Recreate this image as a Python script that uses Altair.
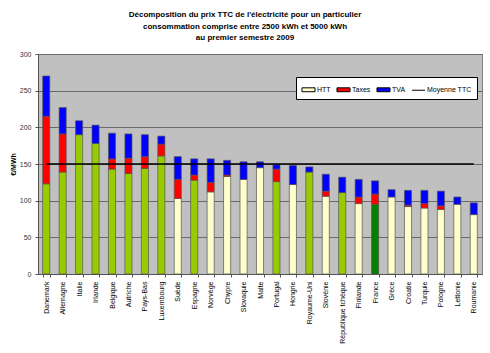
import altair as alt
import pandas as pd

pays = ["Danemark", "Allemagne", "Italie", "Irlande", "Belgique", "Autriche",
        "Pays-Bas", "Luxembourg", "Suède", "Espagne", "Norvège", "Chypre",
        "Slovaquie", "Malte", "Portugal", "Hongrie", "Royaume-Uni", "Slovénie",
        "République tchèque", "Finlande", "France", "Grèce", "Croatie",
        "Turquie", "Pologne", "Lettonie", "Roumanie"]
htt = [123, 139, 190, 178, 143, 137, 144, 161, 103, 128, 112, 133,
       129, 145, 126, 122, 139, 106, 111, 96, 95, 105, 92, 90, 88, 95, 81]
taxes = [92, 52, 0, 0, 14, 21, 16, 16, 26, 7, 13, 2,
         0, 0, 17, 0, 0, 7, 0, 9, 14, 0, 2, 6, 5, 0, 0]
tva = [55, 36, 19, 25, 35, 33, 30, 11, 31, 22, 32, 20,
       24, 8, 6, 26, 7, 23, 21, 24, 18, 10, 20, 18, 20, 10, 16]
groupe_htt = ["HTT vert"] * 8 + ["HTT", "HTT vert", "HTT", "HTT", "HTT", "HTT",
              "HTT vert", "HTT", "HTT vert", "HTT", "HTT vert", "HTT",
              "HTT France", "HTT", "HTT", "HTT", "HTT", "HTT", "HTT"]
moyenne_ttc = 150
y_ticks = [0, 50, 100, 150, 200, 250, 300]

rows = []
for i, p in enumerate(pays):
    for rang, (comp, val, cle) in enumerate([
            ("HTT", htt[i], groupe_htt[i]),
            ("Taxes", taxes[i], "Taxes"),
            ("TVA", tva[i], "TVA")]):
        if val > 0:
            rows.append({"pays": p, "composante": comp, "valeur": val,
                         "cle": cle, "rang": rang})
df = pd.DataFrame(rows)
df_moy = pd.DataFrame({"pays": pays, "valeur": [moyenne_ttc] * len(pays)})

x_axis = alt.Axis(labelAngle=270, labelFontSize=7, labelColor="#000",
                  labelPadding=4, tickBand="extent", tickSize=3,
                  tickColor="#555", domainColor="#555", grid=False,
                  labelFont="Liberation Sans")
x_scale = alt.Scale(paddingInner=0.57, paddingOuter=0.285)
y_axis = alt.Axis(values=y_ticks, tickCount=7,
                  labelFontSize=7, labelColor="#333", tickSize=3,
                  tickColor="#555", domainColor="#555",
                  gridColor="#6A6A6A", gridWidth=1,
                  titleFontSize=7, titleFontWeight="bold",
                  titlePadding=3, labelPadding=4, labelOverlap=False,
                  labelFont="Liberation Sans", titleFont="Liberation Sans")
y_scale = alt.Scale(domain=[0, 300], nice=False)

shape_expr = ("datum.value == 'Moyenne TTC' ? 'M-1,0L1,0' : "
              "'M-1,-0.3L1,-0.3L1,0.3L-1,0.3Z'")

bars = alt.Chart(df).mark_bar(stroke="#555", strokeWidth=0.7).encode(
    x=alt.X("pays:N", sort=pays, title=None, axis=x_axis, scale=x_scale),
    y=alt.Y("sum(valeur):Q", title="€/MWh", scale=y_scale, axis=y_axis),
    fill=alt.Fill("cle:N",
                  scale=alt.Scale(domain=["HTT", "Taxes", "TVA", "Moyenne TTC",
                                          "HTT vert", "HTT France"],
                                  range=["#FFFFCC", "#FF0000", "#0000FF",
                                         "#000000", "#99CC00", "#008000"]),
                  legend=alt.Legend(values=["HTT", "Taxes", "TVA", "Moyenne TTC"],
                                    title=None, orient="none", legendX=258,
                                    legendY=23, direction="horizontal",
                                    symbolType={"expr": shape_expr},
                                    symbolSize=170, symbolStrokeColor="#000",
                                    symbolStrokeWidth=1,
                                    labelFontSize=7, labelColor="#000",
                                    labelFont="Liberation Sans",
                                    labelOffset=1, columnPadding=3,
                                    padding=5, strokeColor="#000",
                                    fillColor="#FFFFFF", cornerRadius=0)),
    order=alt.Order("rang:Q", sort="ascending"),
)

line = alt.Chart(df_moy).mark_line(color="#000", strokeWidth=1.5).encode(
    x=alt.X("pays:N", sort=pays, title=None, axis=x_axis, scale=x_scale),
    y=alt.Y("valeur:Q", title="€/MWh", scale=y_scale, axis=y_axis),
)

chart = alt.layer(bars, line).properties(
    width=444, height=220,
    title=alt.TitleParams(
        text=["Décomposition du prix TTC de l'électricité pour un particulier",
              "consommation comprise entre 2500 kWh et 5000 kWh",
              "au premier semestre 2009"],
        fontSize=8, fontWeight="bold", font="Liberation Sans",
        lineHeight=11.5, anchor="middle", dx=-15, offset=8, color="#000"),
    autosize=alt.AutoSizeParams(type="none"),
    padding={"left": 38, "top": 54, "right": 8, "bottom": 79},
    background="#FFFFFF",
).configure_view(fill="#C0C0C0", stroke="#808080", strokeWidth=1)

chart.save("out.html", embed_options={"renderer": "svg", "actions": False})
